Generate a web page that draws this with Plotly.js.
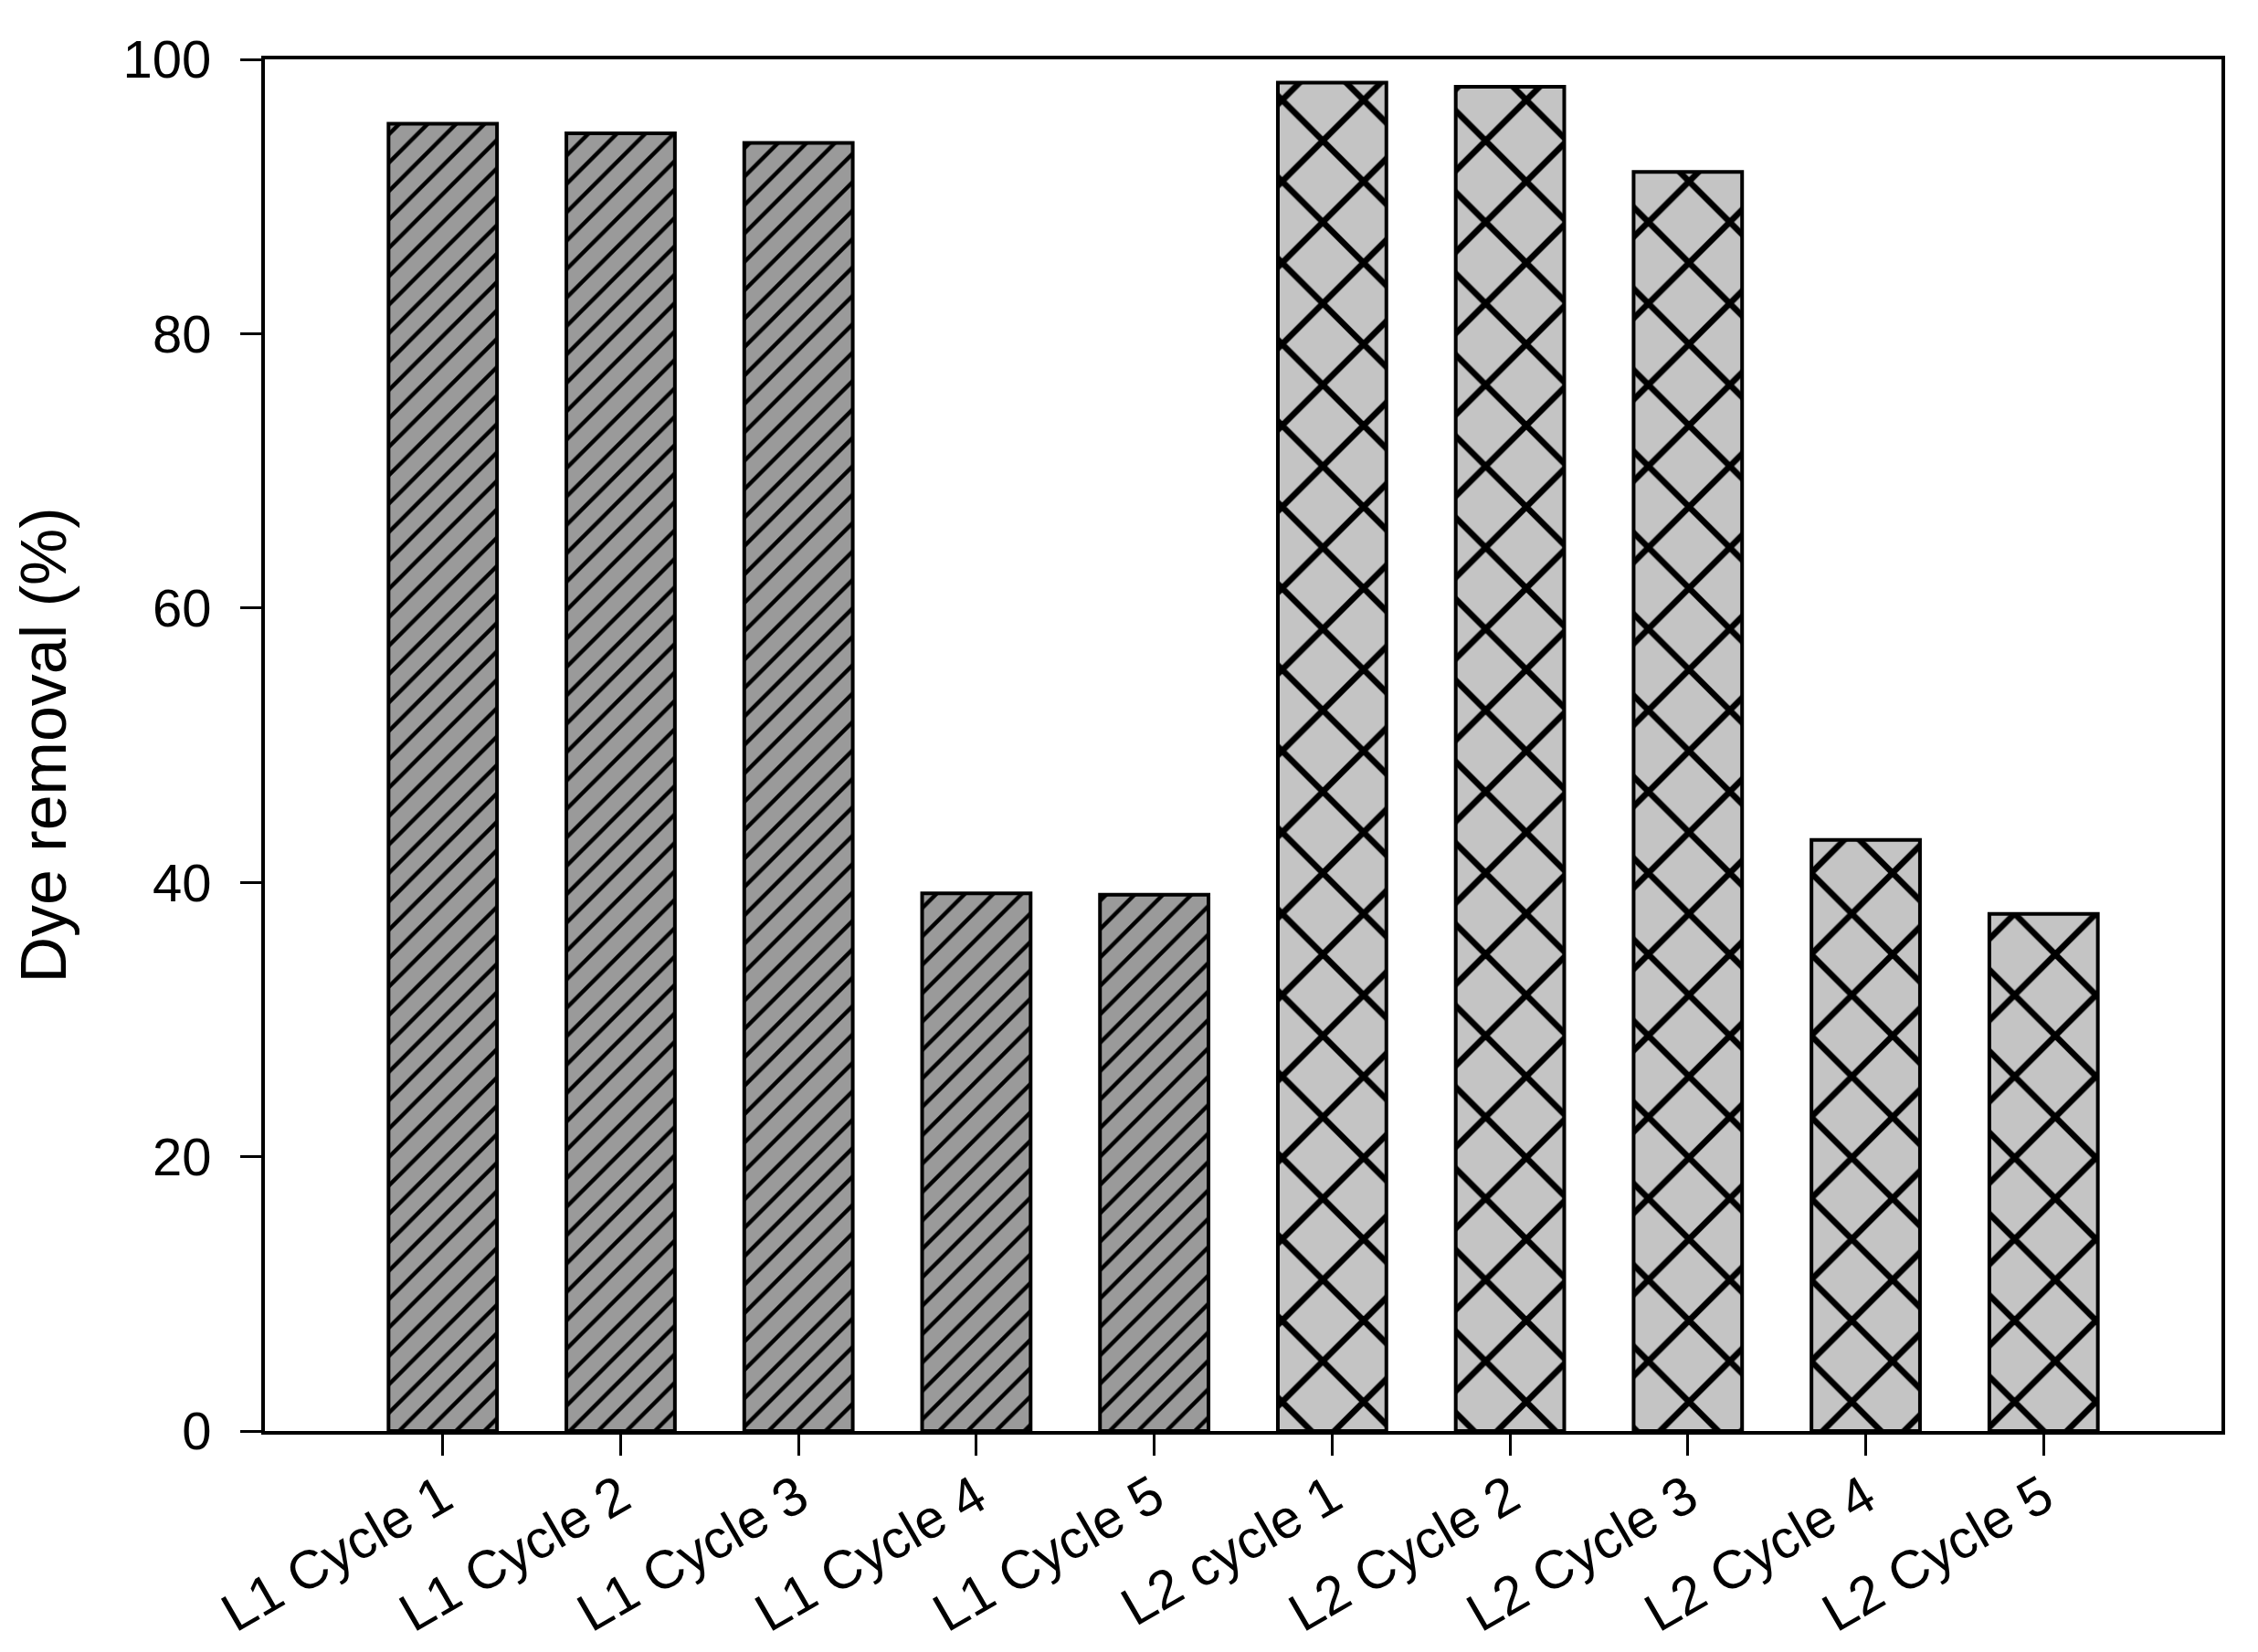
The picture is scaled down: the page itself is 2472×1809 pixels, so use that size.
<!DOCTYPE html>
<html>
<head>
<meta charset="utf-8">
<script src="https://cdn.plot.ly/plotly-3.0.1.min.js"></script>
<style>
  body { margin: 0; background: #fff; }
  #chart { width: 2472px; height: 1809px; }
</style>
</head>
<body>
<div id="chart"></div>
<script>
var categories = ['L1 Cycle 1', 'L1 Cycle 2', 'L1 Cycle 3', 'L1 Cycle 4', 'L1 Cycle 5',
                  'L2 cycle 1', 'L2 Cycle 2', 'L2 Cycle 3', 'L2 Cycle 4', 'L2 Cycle 5'];

var l1Labels = ['L1 Cycle 1', 'L1 Cycle 2', 'L1 Cycle 3', 'L1 Cycle 4', 'L1 Cycle 5'];
var l1Values = [95.3, 94.6, 93.9, 39.2, 39.1];

var l2Labels = ['L2 cycle 1', 'L2 Cycle 2', 'L2 Cycle 3', 'L2 Cycle 4', 'L2 Cycle 5'];
var l2Values = [98.3, 98.0, 91.8, 43.1, 37.7];

var yTicks = [0, 20, 40, 60, 80, 100];

var font = 'Arial, "Liberation Sans", sans-serif';

var trace1 = {
  x: l1Labels,
  y: l1Values,
  type: 'bar',
  name: 'L1',
  marker: {
    color: '#9a9a9a',
    line: { color: '#000', width: 4 },
    pattern: { shape: '/', fgcolor: '#000', bgcolor: '#9a9a9a', size: 22, solidity: 0.2 }
  }
};

var trace2 = {
  x: l2Labels,
  y: l2Values,
  type: 'bar',
  name: 'L2',
  marker: {
    color: '#c4c4c4',
    line: { color: '#000', width: 4 },
    pattern: { shape: 'x', fgcolor: '#000', bgcolor: '#c4c4c4', size: 63, solidity: 0.2 }
  }
};

var data = [trace1, trace2];

var layout = {
  width: 2472,
  height: 1809,
  showlegend: false,
  barmode: 'overlay',
  bargap: 0.39,
  paper_bgcolor: '#fff',
  plot_bgcolor: '#fff',
  font: { family: font, color: '#000', size: 58 },
  margin: { l: 290, r: 40, t: 65, b: 242, pad: 0 },
  xaxis: {
    type: 'category',
    categoryorder: 'array',
    categoryarray: categories,
    range: [-1, 10],
    showgrid: false,
    zeroline: false,
    showline: true,
    linecolor: '#000',
    linewidth: 4,
    mirror: true,
    ticks: 'outside',
    ticklen: 23,
    tickwidth: 3,
    tickcolor: '#000',
    tickangle: -30,
    ticklabelstandoff: -12,
    tickfont: { family: font, size: 59, color: '#000' }
  },
  yaxis: {
    range: [0, 100],
    tickvals: yTicks,
    showgrid: false,
    zeroline: false,
    showline: true,
    linecolor: '#000',
    linewidth: 4,
    mirror: true,
    ticks: 'outside',
    ticklen: 23,
    tickwidth: 3,
    tickcolor: '#000',
    ticklabelstandoff: 20,
    tickfont: { family: font, size: 58, color: '#000' },
    title: { text: 'Dye removal (%)', font: { family: font, size: 70, color: '#000' }, standoff: 40 }
  }
};

Plotly.newPlot('chart', data, layout, { displayModeBar: false });
</script>
</body>
</html>
